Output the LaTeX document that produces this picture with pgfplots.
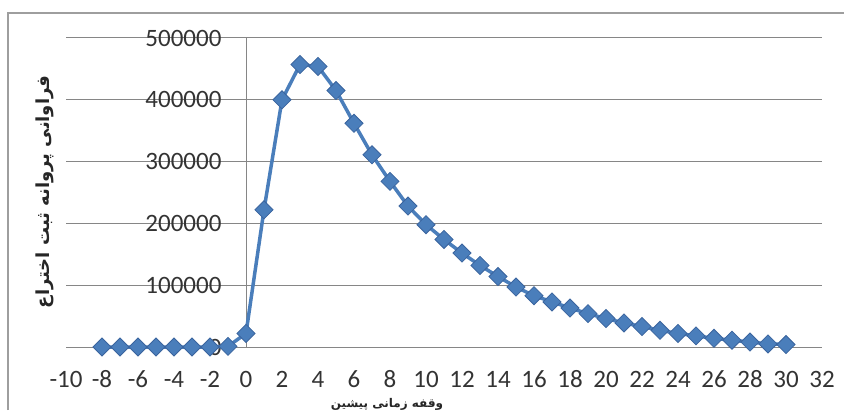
\documentclass[border=0pt]{standalone}
\usepackage{pgfplots}
\pgfplotsset{compat=1.18}
\usepackage{fontspec}
\setmainfont{Carlito}
\newfontfamily\farsi[Script=Arabic]{DejaVu Sans}
\TeXXeTstate=1
\definecolor{gridgray}{RGB}{134,134,134}
\definecolor{serieblue}{RGB}{74,126,187}
\definecolor{markedge}{RGB}{58,100,158}
\begin{document}
\begin{tikzpicture}
\useasboundingbox (0,0) rectangle (844pt,410pt);
% chart frame (top and left edges visible)
\draw[gridgray!80, line width=2pt] (8pt,0) -- (8pt,397pt) -- (844pt,397pt);
\begin{axis}[
    at={(66pt,63pt)}, anchor=south west,
    scale only axis, width=756pt, height=309pt,
    xmin=-10, xmax=32, ymin=0, ymax=500000,
    clip=false,
    scaled y ticks=false,
    axis x line=bottom, axis y line=center,
    every inner y axis line/.append style={-},
    y axis line style={-, draw=gridgray!70},
    x axis line style={-},
    axis line style={draw=gridgray, line width=1pt},
    hide obscured x ticks=false, hide obscured y ticks=false,
    major tick length=0pt,
    xtick={-10,-8,...,32},
    xticklabels={-10,-8,-6,-4,-2,0,2,4,6,8,10,12,14,16,18,20,22,24,26,28,30,32},
    ytick={0,100000,200000,300000,400000,500000},
    yticklabels={0,100000,200000,300000,400000,500000},
    ymajorgrids, grid style={draw=gridgray, line width=1pt},
    tick label style={font=\fontsize{25}{25}\selectfont, text=black!80},
    x tick label style={anchor=center, yshift=-32pt},
    y tick label style={anchor=east, xshift=-21pt},
]
\addplot[serieblue, line width=3.5pt,
    mark=square*, mark size=6.4pt,
    mark options={rotate=45, fill=serieblue, draw=markedge, line width=0.8pt}]
    coordinates {
    (-8,0) (-7,0) (-6,0) (-5,0) (-4,0) (-3,0) (-2,0) (-1,1000)
    (0,22000) (1,222000) (2,400000) (3,457000) (4,454000) (5,415000)
    (6,362000) (7,311000) (8,268000) (9,228000) (10,198000) (11,174000)
    (12,152000) (13,132000) (14,114000) (15,97000) (16,83000) (17,73000)
    (18,63000) (19,54000) (20,46000) (21,39000) (22,33000) (23,27000)
    (24,22000) (25,18000) (26,14000) (27,11000) (28,8000) (29,5000)
    (30,4000)};
\end{axis}
\node[rotate=90, font=\farsi\bfseries\fontsize{18}{18}\selectfont, text=black!85]
    at (45pt,218pt) {\beginR فراوانی پروانه ثبت اختراع\endR};
\node[font=\farsi\bfseries\fontsize{12}{12}\selectfont, text=black!85, inner sep=0pt]
    at (387pt,6pt) {\beginR وقفه زمانی پیشین\endR};
\end{tikzpicture}
\end{document}
